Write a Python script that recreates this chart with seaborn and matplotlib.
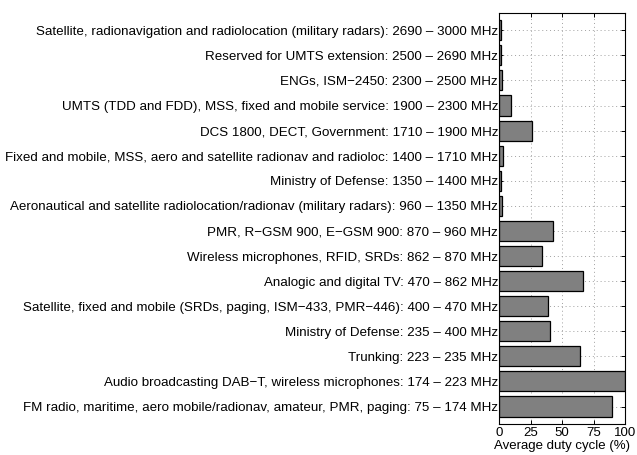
import numpy as np
import pandas as pd
import matplotlib
matplotlib.use("Agg")
import matplotlib.pyplot as plt
import seaborn as sns

# DATA (top to bottom)
bands = [
    "Satellite, radionavigation and radiolocation (military radars): 2690 – 3000 MHz",
    "Reserved for UMTS extension: 2500 – 2690 MHz",
    "ENGs, ISM−2450: 2300 – 2500 MHz",
    "UMTS (TDD and FDD), MSS, fixed and mobile service: 1900 – 2300 MHz",
    "DCS 1800, DECT, Government: 1710 – 1900 MHz",
    "Fixed and mobile, MSS, aero and satellite radionav and radioloc: 1400 – 1710 MHz",
    "Ministry of Defense: 1350 – 1400 MHz",
    "Aeronautical and satellite radiolocation/radionav (military radars): 960 – 1350 MHz",
    "PMR, R−GSM 900, E−GSM 900: 870 – 960 MHz",
    "Wireless microphones, RFID, SRDs: 862 – 870 MHz",
    "Analogic and digital TV: 470 – 862 MHz",
    "Satellite, fixed and mobile (SRDs, paging, ISM−433, PMR−446): 400 – 470 MHz",
    "Ministry of Defense: 235 – 400 MHz",
    "Trunking: 223 – 235 MHz",
    "Audio broadcasting DAB−T, wireless microphones: 174 – 223 MHz",
    "FM radio, maritime, aero mobile/radionav, amateur, PMR, paging: 75 – 174 MHz",
]
duty = [1.5, 1.4, 1.8, 9.3, 26.3, 3.2, 1.5, 2.3, 42.5, 34.2, 66.6, 38.5, 40.3, 64.0, 100.0, 90.0]
xticks = [0, 25, 50, 75, 100]

df = pd.DataFrame({"band": bands, "duty": duty})

# PLOTTING
sns.set_style("white")
plt.rcParams["font.family"] = ["Liberation Sans", "DejaVu Sans"]
plt.rcParams["text.color"] = "black"
plt.rcParams["axes.labelcolor"] = "black"

fig = plt.figure(figsize=(6.37, 4.55), dpi=100)
ax = fig.add_axes([0.784, 0.068, 0.197, 0.903])

sns.barplot(data=df, x="duty", y="band", orient="h", color="#808080",
            saturation=1, edgecolor="black", linewidth=0.9, width=0.8, ax=ax)

ax.set_xlim(0, 100)
ax.set_ylim(15.7, -0.68)
ax.set_xticks(xticks)
ax.set_xticklabels([str(t) for t in xticks], fontsize=9.5)
ax.set_xlabel("Average duty cycle (%)", fontsize=9.5, labelpad=1, color="black")
ax.set_ylabel("")
ax.tick_params(axis="y", labelsize=9.6, pad=1, labelcolor="black")
ax.tick_params(axis="both", direction="in", length=3, width=0.7,
               top=True, right=True, bottom=True, left=True, color="black")
ax.tick_params(axis="x", pad=2, labelcolor="black")

ax.grid(True, linestyle=(0, (1, 3)), color="#a0a0a0", linewidth=0.7)
ax.set_axisbelow(True)
for s in ax.spines.values():
    s.set_visible(True)
    s.set_color("black")
    s.set_linewidth(0.8)

plt.savefig("out.png", dpi=100)
